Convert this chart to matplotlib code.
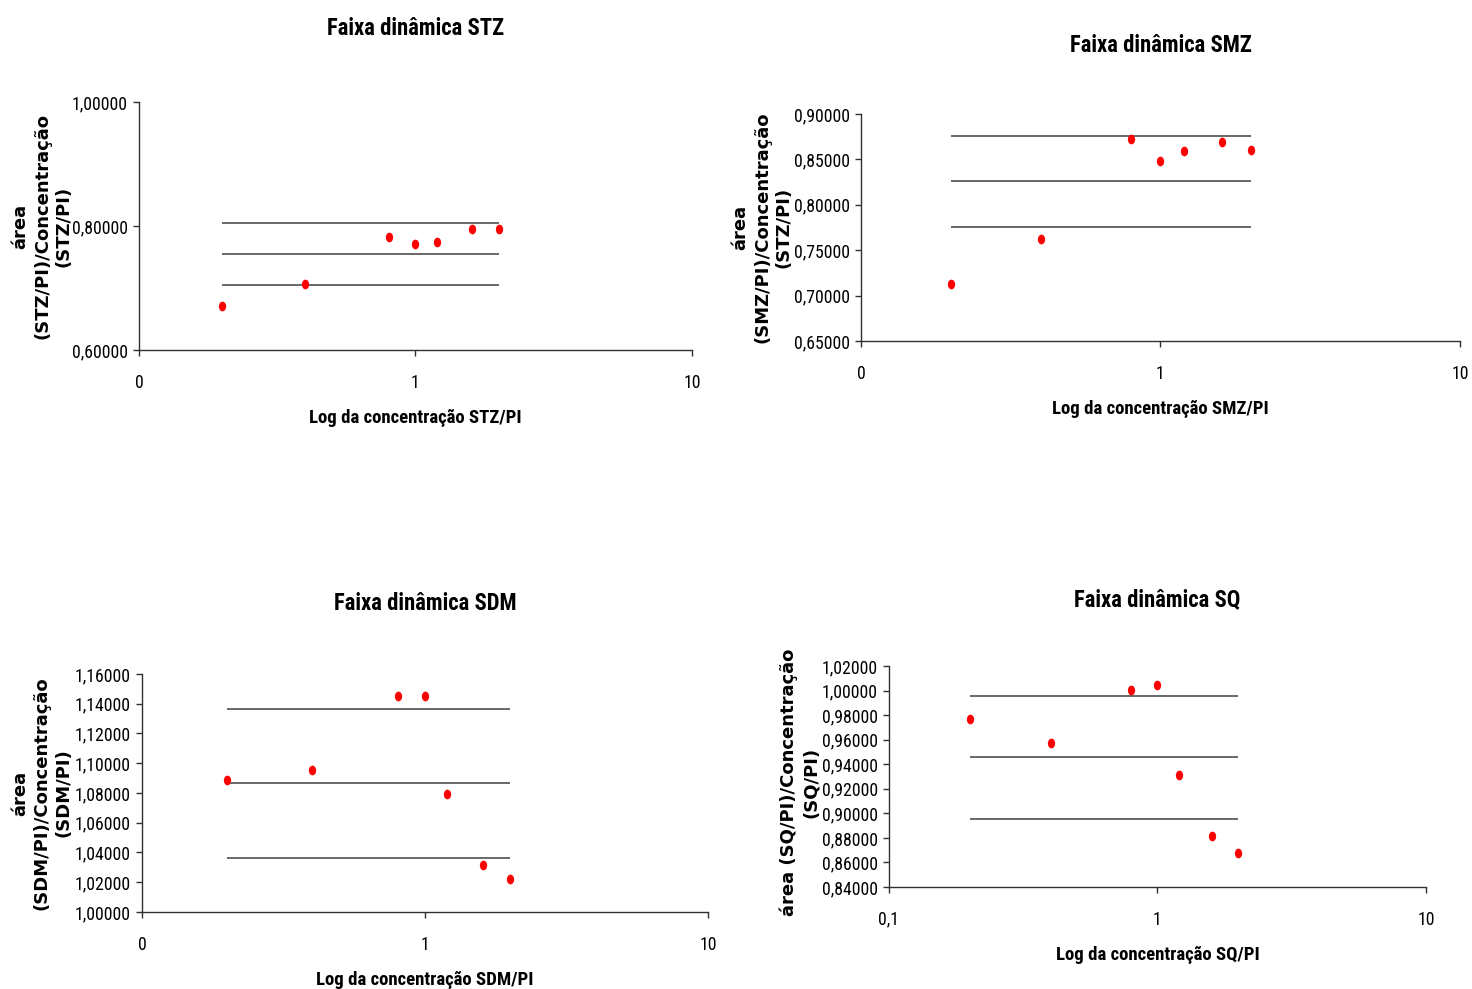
import matplotlib
matplotlib.use('Agg')
import matplotlib.pyplot as plt
from matplotlib import font_manager
from matplotlib.markers import MarkerStyle
from matplotlib.transforms import Affine2D
from matplotlib.ticker import FixedLocator, FuncFormatter, NullLocator

# concentracoes (log) e razoes area/concentracao
conc = [0.2, 0.4, 0.8, 1.0, 1.2, 1.6, 2.0]

stz = [0.6715, 0.7070, 0.7823, 0.7715, 0.7737, 0.7952, 0.7952]
stz_faixa = [0.705, 0.755, 0.805]

smz = [0.7133, 0.7623, 0.8724, 0.8488, 0.8588, 0.8687, 0.8606]
smz_faixa = [0.776, 0.826, 0.876]

sdm = [1.0885, 1.0957, 1.1454, 1.1454, 1.0793, 1.0317, 1.0222]
sdm_faixa = [1.0365, 1.0865, 1.1365]

sq = [0.9765, 0.9572, 1.0007, 1.0045, 0.9316, 0.8819, 0.8675]
sq_faixa = [0.8955, 0.9455, 0.9955]

# fonte estreita se houver, senao Liberation Sans um pouco menor
installed = {f.name for f in font_manager.fontManager.ttflist}
narrow, k = 'Liberation Sans', 0.86
for nome in ['Liberation Sans Narrow', 'Arial Narrow', 'Roboto Condensed']:
    if nome in installed:
        narrow, k = nome, 1.0
        break

fig = plt.figure(figsize=(14.72, 9.89), dpi=100)

paineis = [
    # pos, dados, faixa, ylim, passo, titulo, ylabel, xlabel, xticklabels, ylabel x, ylabel y, titulo dy
    ([0.0944, 0.6461, 0.3757, 0.2508], stz, stz_faixa, (0.6, 1.0), 0.2,
     'Faixa dinâmica STZ', 'área\n(STZ/PI)/Concentração\n(STZ/PI)',
     'Log da concentração STZ/PI', ['0', '1', '10'], -0.175, 0.5, 73),
    ([0.5849, 0.6552, 0.4069, 0.2295], smz, smz_faixa, (0.65, 0.9), 0.05,
     'Faixa dinâmica SMZ', 'área\n(SMZ/PI)/Concentração\n(STZ/PI)',
     'Log da concentração SMZ/PI', ['0', '1', '10'], -0.165, 0.5, 69),
    ([0.0965, 0.0779, 0.3845, 0.2406], sdm, sdm_faixa, (1.0, 1.16), 0.02,
     'Faixa dinâmica SDM', 'área\n(SDM/PI)/Concentração\n(SDM/PI)',
     'Log da concentração SDM/PI', ['0', '1', '10'], -0.177, 0.5, 71),
    ([0.6039, 0.1031, 0.3648, 0.2235], sq, sq_faixa, (0.84, 1.02), 0.02,
     'Faixa dinâmica SQ', 'área (SQ/PI)/Concentração\n(SQ/PI)',
     'Log da concentração SQ/PI', ['0,1', '1', '10'], -0.166, 0.475, 66),
]

ponto = MarkerStyle('o', transform=Affine2D().scale(0.75, 1.0))

for pos, valores, faixa, ylim, passo, titulo, ylab, xlab, xtl, ylx, yly, tpad in paineis:
    ax = fig.add_axes(pos)
    ax.set_xscale('log')
    ax.set_xlim(0.1, 10)
    ax.set_ylim(*ylim)

    for nivel in faixa:
        ax.hlines(nivel, min(conc), max(conc), color='#404040', lw=1.1, zorder=2)
    ax.plot(conc, valores, linestyle='none', marker=ponto, markersize=7,
            color='#ff0000', markeredgewidth=0, zorder=3)

    for lado in ['top', 'right']:
        ax.spines[lado].set_visible(False)
    for lado in ['left', 'bottom']:
        ax.spines[lado].set_color('#303030')
        ax.spines[lado].set_linewidth(1.0)

    ax.xaxis.set_major_locator(FixedLocator([0.1, 1, 10]))
    ax.xaxis.set_minor_locator(NullLocator())
    ax.set_xticklabels(xtl)
    n = int(round((ylim[1] - ylim[0]) / passo))
    ax.yaxis.set_major_locator(FixedLocator([ylim[0] + i * passo for i in range(n + 1)]))
    ax.yaxis.set_major_formatter(FuncFormatter(lambda v, p: f'{v:.5f}'.replace('.', ',')))
    ax.tick_params(axis='both', direction='out', length=4, width=1, color='#303030',
                   labelsize=12.8 * k, labelcolor='black')
    ax.tick_params(axis='x', pad=13)
    ax.tick_params(axis='y', pad=4)
    for lbl in ax.get_xticklabels() + ax.get_yticklabels():
        lbl.set_family(narrow)

    ax.text(0.5, 1 + tpad / (pos[3] * 989), titulo, transform=ax.transAxes,
            ha='center', va='center', fontsize=16.3 * k, fontweight='bold', family=narrow)
    ax.text(0.5, -68 / (pos[3] * 989), xlab, transform=ax.transAxes,
            ha='center', va='center', fontsize=13.5 * k, fontweight='bold', family=narrow)
    ax.text(ylx, yly, ylab, transform=ax.transAxes, rotation=90,
            ha='center', va='center', multialignment='center', linespacing=1.25,
            fontsize=13, fontweight='bold', family='DejaVu Sans')

fig.savefig('out.png', dpi=100)
